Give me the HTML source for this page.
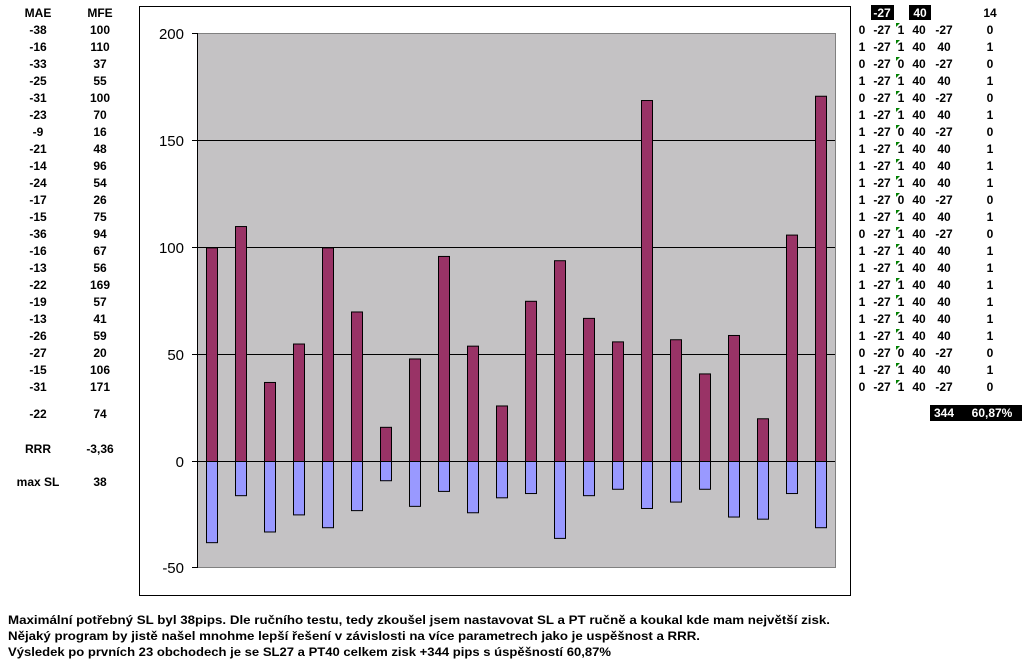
<!DOCTYPE html>
<html><head><meta charset="utf-8"><style>
html,body{margin:0;padding:0;background:#fff;}
svg{display:block;font-family:"Liberation Sans",Arial,sans-serif;}
.b{font-weight:bold;font-size:12px;}
</style></head><body>
<svg width="1025" height="665" viewBox="0 0 1025 665" xmlns="http://www.w3.org/2000/svg">
<rect x="0" y="0" width="1025" height="665" fill="#fff"/>
<!-- chart frame -->
<rect x="139.5" y="6.5" width="711" height="589" fill="#fff" stroke="#000" stroke-width="1"/>
<rect x="197" y="33" width="638" height="535" fill="#c4c2c4"/>
<line x1="197" y1="33.5" x2="835" y2="33.5" stroke="#808080"/>
<line x1="835.5" y1="33" x2="835.5" y2="568" stroke="#808080"/>
<line x1="197" y1="567.5" x2="835" y2="567.5" stroke="#808080"/>
<g stroke="#000" stroke-width="1">
<line x1="197" y1="140.5" x2="835" y2="140.5"/>
<line x1="197" y1="247.5" x2="835" y2="247.5"/>
<line x1="197" y1="354.5" x2="835" y2="354.5"/>
<line x1="197.5" y1="33" x2="197.5" y2="568"/>
<line x1="192" y1="33.5" x2="197" y2="33.5"/>
<line x1="192" y1="140.5" x2="197" y2="140.5"/>
<line x1="192" y1="247.5" x2="197" y2="247.5"/>
<line x1="192" y1="354.5" x2="197" y2="354.5"/>
<line x1="192" y1="461.5" x2="197" y2="461.5"/>
<line x1="192" y1="567.5" x2="197" y2="567.5"/>
</g>
<g font-size="15" fill="#000" text-anchor="end">
<text x="184" y="39">200</text>
<text x="184" y="146">150</text>
<text x="184" y="253">100</text>
<text x="184" y="360">50</text>
<text x="184" y="467">0</text>
<text x="184" y="573">-50</text>
</g>
<g id="bars" stroke="#000" stroke-width="1"></g>
<line x1="197" y1="461.5" x2="835" y2="461.5" stroke="#000"/>
<!-- left table -->
<g class="b" text-anchor="middle" id="left">
<text x="38" y="17">MAE</text><text x="100" y="17">MFE</text>
<text x="38" y="418">-22</text><text x="100" y="418">74</text>
<text x="38" y="453">RRR</text><text x="100" y="453">-3,36</text>
<text x="38" y="486">max SL</text><text x="100" y="486">38</text>
</g>
<!-- right table -->
<rect x="871" y="5" width="23" height="15" fill="#000"/>
<rect x="909" y="5" width="22" height="15" fill="#000"/>
<g class="b" text-anchor="middle">
<text x="882" y="17" fill="#fff">-27</text>
<text x="920" y="17" fill="#fff">40</text>
<text x="990" y="17">14</text>
</g>
<g class="b" text-anchor="middle" id="right"></g>
<rect x="930" y="405" width="92" height="16" fill="#000"/>
<g class="b" fill="#fff" text-anchor="middle">
<text x="944" y="417">344</text><text x="992" y="417">60,87%</text>
</g>
<!-- bottom text -->
<g class="b">
<text x="8" y="624" textLength="822" lengthAdjust="spacingAndGlyphs">Maximální potřebný SL byl 38pips. Dle ručního testu, tedy zkoušel jsem nastavovat SL a PT ručně a koukal kde mam největší zisk.</text>
<text x="8" y="640" textLength="692" lengthAdjust="spacingAndGlyphs">Nějaký program by jistě našel mnohme lepší řešení v závislosti na více parametrech jako je uspěšnost a RRR.</text>
<text x="8" y="656" textLength="603" lengthAdjust="spacingAndGlyphs">Výsledek po prvních 23 obchodech je se SL27 a PT40 celkem zisk +344 pips s úspěšností 60,87%</text>
</g>
</svg>
<script>
var mae=[-38,-16,-33,-25,-31,-23,-9,-21,-14,-24,-17,-15,-36,-16,-13,-22,-19,-13,-26,-27,-15,-31];
var mfe=[100,110,37,55,100,70,16,48,96,54,26,75,94,67,56,169,57,41,59,20,106,171];
var hit=[0,1,0,1,0,1,0,1,1,1,0,1,0,1,1,1,1,1,1,0,1,0];
var pt=[1,1,0,1,1,1,0,1,1,1,0,1,1,1,1,1,1,1,1,0,1,1];
var first=[0,1,0,1,0,1,1,1,1,1,1,1,0,1,1,1,1,1,1,0,1,0];
var NS="http://www.w3.org/2000/svg";
function el(t,a,p,txt){var e=document.createElementNS(NS,t);for(var k in a)e.setAttribute(k,a[k]);if(txt!=null)e.textContent=txt;p.appendChild(e);return e;}
var bars=document.getElementById('bars'),left=document.getElementById('left'),right=document.getElementById('right');
var z=461.5,s=2.136;
for(var i=0;i<22;i++){
 var cx=197+29*i+14.5, x=Math.round(cx-6)+0.5;
 var h=mfe[i]*s; el('rect',{x:x,y:z-h,width:11,height:h,fill:'#993366'},bars);
 var h2=-mae[i]*s; el('rect',{x:x,y:z,width:11,height:h2,fill:'#9999ff'},bars);
 var y=34+17*i;
 el('text',{x:38,y:y},left,mae[i]);el('text',{x:100,y:y},left,mfe[i]);
 el('text',{x:862,y:y},right,first[i]);
 el('text',{x:882,y:y},right,'-27');
 el('text',{x:901,y:y},right,pt[i]);
 el('text',{x:919,y:y},right,'40');
 el('text',{x:944,y:y},right,hit[i]?'40':'-27');
 el('text',{x:990,y:y},right,hit[i]);
 el('polygon',{points:(896)+','+(y-11)+' '+(900)+','+(y-11)+' '+(896)+','+(y-7),fill:'#008000'},right);
}
</script>
</body></html>
